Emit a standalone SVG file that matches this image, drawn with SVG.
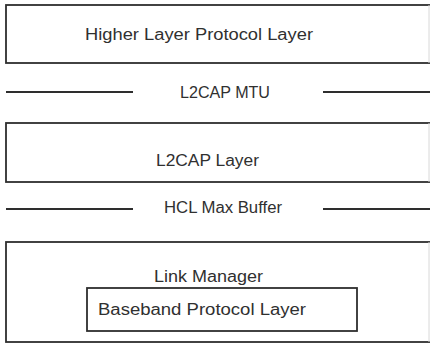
<svg xmlns="http://www.w3.org/2000/svg" width="430" height="345" viewBox="0 0 430 345">
  <style>
    .layer { fill: #ffffff; stroke: #2e2e2e; stroke-width: 1.8; }
    .edge { stroke: #d8d8d8; stroke-width: 1; }
    .rule { stroke: #2e2e2e; stroke-width: 1.8; }
    text { font-family: "Liberation Sans", Arial, sans-serif; font-size: 16px; fill: #303030; }
  </style>
  <rect width="430" height="345" fill="#ffffff"/>

  <g id="higher-layer">
    <rect class="layer" x="6" y="5" width="430" height="58"/>
    <line class="edge" x1="429" y1="5" x2="429" y2="63"/>
    <text x="85" y="40" textLength="228" lengthAdjust="spacingAndGlyphs">Higher Layer Protocol Layer</text>
  </g>

  <g id="l2cap-layer">
    <rect class="layer" x="6" y="123" width="430" height="59"/>
    <line class="edge" x1="429" y1="123" x2="429" y2="182"/>
    <text x="156" y="166" textLength="103" lengthAdjust="spacingAndGlyphs">L2CAP Layer</text>
  </g>

  <g id="link-manager">
    <rect class="layer" x="6" y="242" width="430" height="100"/>
    <line class="edge" x1="429" y1="242" x2="429" y2="342"/>
    <text x="154" y="282" textLength="109" lengthAdjust="spacingAndGlyphs">Link Manager</text>
  </g>

  <g id="baseband">
    <rect class="layer" x="87" y="288" width="270" height="43"/>
    <text x="98" y="315" textLength="208" lengthAdjust="spacingAndGlyphs">Baseband Protocol Layer</text>
  </g>

  <g id="boundaries">
    <line class="rule" x1="6" y1="92" x2="133" y2="92"/>
    <text x="180" y="98" textLength="90" lengthAdjust="spacingAndGlyphs">L2CAP MTU</text>
    <line class="rule" x1="323" y1="92" x2="430" y2="92"/>

    <line class="rule" x1="6" y1="209" x2="133" y2="209"/>
    <text x="164" y="213" textLength="118" lengthAdjust="spacingAndGlyphs">HCL Max Buffer</text>
    <line class="rule" x1="323" y1="209" x2="430" y2="209"/>
  </g>
</svg>
